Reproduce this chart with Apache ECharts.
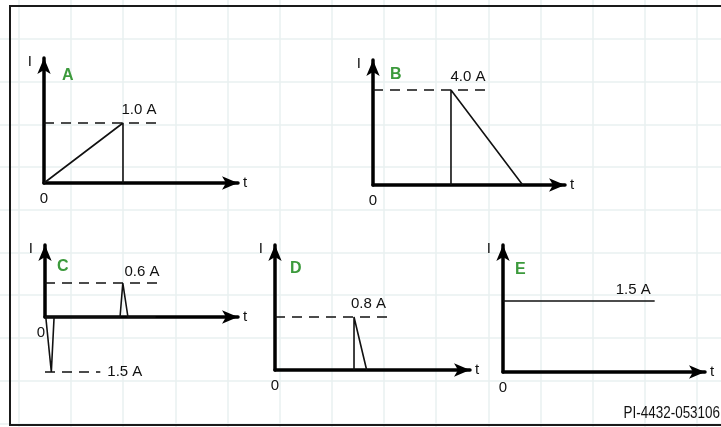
<!DOCTYPE html>
<html>
<head>
<meta charset="utf-8">
<script src="https://cdn.jsdelivr.net/npm/echarts@6/dist/echarts.min.js"></script>
<style>
  html, body { margin: 0; padding: 0; background: #fff; }
  #chart { width: 721px; height: 427px; }
</style>
</head>
<body>
<div id="chart"></div>
<script>
// waveforms as [t, I]; t in schematic units, I in amps
const waveA = [[0, 0], [1, 1.0], [1, 0]];
const waveB = [[1, 0], [1, 4.0], [1.92, 0]];
const waveC = [[0, 0], [0.95, 0], [0.985, 0.6], [1.01, 0.6], [1.05, 0], [1.4, 0]];
const spikeC = [[0.01, 0], [0.08, -1.5], [0.115, 0]];
const waveD = [[1, 0], [1, 0.8], [1.16, 0]];
const waveE = [[0, 1.5], [1.92, 1.5]];

const panelNames = ["A", "B", "C", "D", "E"];
const peakValues = [1.0, 4.0, 0.6, 0.8, 1.5];
const refLineEnd = [1.5, 1.52, 1.5, 1.48, 1.92];
const negPeakC = -1.5;
const negRefEndC = 0.7;

const ink = "#111";
const green = "#3c9a3c";
const font = "Liberation Sans, Arial, sans-serif";

// pixel boxes of the small plots, origin bottom-left; last one is the part of C below zero
const boxes = [
  { left: 44, top: 58, width: 194, height: 125, xMax: 2.456, yMin: 0, yMax: 2.083 },
  { left: 373, top: 60, width: 192, height: 125, xMax: 2.462, yMin: 0, yMax: 5.263 },
  { left: 45, top: 245, width: 193, height: 72, xMax: 2.443, yMin: 0, yMax: 1.271 },
  { left: 275, top: 245, width: 195, height: 125, xMax: 2.468, yMin: 0, yMax: 1.887 },
  { left: 503, top: 245, width: 202, height: 127, xMax: 2.557, yMin: 0, yMax: 2.683 },
  { left: 45, top: 317, width: 193, height: 60, xMax: 2.443, yMin: -1.636, yMax: 0 }
];
const titlePos = [[62, 68], [390, 67], [57, 259], [290, 261], [515, 262]];

const grid = [];
const xAxis = [];
const yAxis = [];
boxes.forEach(function (b, i) {
  const visible = i < 5;
  grid.push({ left: b.left, top: b.top, width: b.width, height: b.height, outerBoundsMode: "none" });
  xAxis.push({
    gridIndex: i, type: "value", min: 0, max: b.xMax,
    name: visible ? "t" : "", nameLocation: "end", nameGap: 5,
    nameTextStyle: { color: ink, fontSize: 15, fontFamily: font },
    axisLine: {
      show: visible, onZero: true,
      symbol: ["none", "arrow"], symbolSize: [10, 16],
      lineStyle: { color: "#000", width: 3.5 }
    },
    axisTick: { show: false },
    splitLine: { show: false },
    axisLabel: {
      show: visible, color: ink, fontSize: 15, fontFamily: font, margin: 8,
      align: i === 2 ? "right" : "center",
      formatter: function (v) { return v === 0 ? "0" : ""; }
    }
  });
  yAxis.push({
    gridIndex: i, type: "value", min: b.yMin, max: b.yMax,
    name: visible ? "I" : "", nameLocation: "end", nameGap: 4,
    nameTextStyle: {
      color: ink, fontSize: 15, fontFamily: font,
      align: "right", verticalAlign: "top", padding: [0, 12, 0, 0]
    },
    axisLine: {
      show: visible,
      symbol: ["none", "arrow"], symbolSize: [10, 16],
      lineStyle: { color: "#000", width: 3.5 }
    },
    axisTick: { show: false },
    splitLine: { show: false },
    axisLabel: { show: false }
  });
});

// background squared paper, reaching past the canvas edges
grid.push({ left: -33.37, top: -3.7, width: 782.55, height: 469.7, outerBoundsMode: "none" });
xAxis.push({
  gridIndex: 6, type: "value", min: 0, max: 15, interval: 1,
  axisLine: { show: false }, axisTick: { show: false }, axisLabel: { show: false },
  splitLine: { show: true, lineStyle: { color: "#e9f0f1", width: 1.5 } }
});
yAxis.push({
  gridIndex: 6, type: "value", min: 0, max: 11, interval: 1,
  axisLine: { show: false }, axisTick: { show: false }, axisLabel: { show: false },
  splitLine: { show: true, lineStyle: { color: "#e9f0f1", width: 1.5 } }
});

function refLine(value, end, pos, dashed, dist) {
  return {
    symbol: "none", silent: true,
    emphasis: { disabled: true },
    lineStyle: {
      color: dashed ? ink : "rgba(0,0,0,0)", width: 1.6,
      type: dashed ? [10, 7] : "solid"
    },
    label: {
      show: true, position: pos, distance: dist,
      formatter: Math.abs(value).toFixed(1) + " A",
      color: ink, fontSize: 15, fontFamily: font
    },
    data: [[{ coord: [0, value] }, { coord: [end, value] }]]
  };
}

function wave(i, data, mark) {
  return {
    type: "line", xAxisIndex: i, yAxisIndex: i, data: data,
    symbol: "none", clip: false, z: 3, silent: true,
    lineStyle: { color: ink, width: 1.6 },
    markLine: mark
  };
}

const series = [
  wave(0, waveA, refLine(peakValues[0], refLineEnd[0], "insideEndTop", true, 6)),
  wave(1, waveB, refLine(peakValues[1], refLineEnd[1], "insideEndTop", true, 6)),
  wave(2, waveC, refLine(peakValues[2], refLineEnd[2], "insideEndTop", true, 4)),
  wave(5, spikeC, refLine(negPeakC, negRefEndC, "end", true, 7)),
  wave(3, waveD, refLine(peakValues[3], refLineEnd[3], "insideEndTop", true, 6)),
  wave(4, waveE, refLine(peakValues[4], refLineEnd[4], "insideEndTop", false, 4))
];

const title = panelNames.map(function (n, i) {
  return {
    text: n, left: titlePos[i][0], top: titlePos[i][1], padding: 0,
    textStyle: { color: green, fontSize: 16, fontWeight: "bold", fontFamily: font }
  };
});

const chart = echarts.init(document.getElementById("chart"));
chart.setOption({
  backgroundColor: "#fff",
  animation: false,
  title: title,
  grid: grid,
  xAxis: xAxis,
  yAxis: yAxis,
  series: series,
  graphic: [
    {
      type: "rect", z: 10, silent: true,
      shape: { x: 10, y: 6, width: 730, height: 419 },
      style: { fill: "none", stroke: "#1a1a1a", lineWidth: 2 }
    },
    {
      type: "text", x: 720, y: 414, scaleX: 0.84, z: 10, silent: true,
      style: {
        text: "PI-4432-053106", fill: ink, align: "right", verticalAlign: "middle",
        font: '16px "Liberation Sans", Arial, sans-serif'
      }
    }
  ]
});
</script>
</body>
</html>
